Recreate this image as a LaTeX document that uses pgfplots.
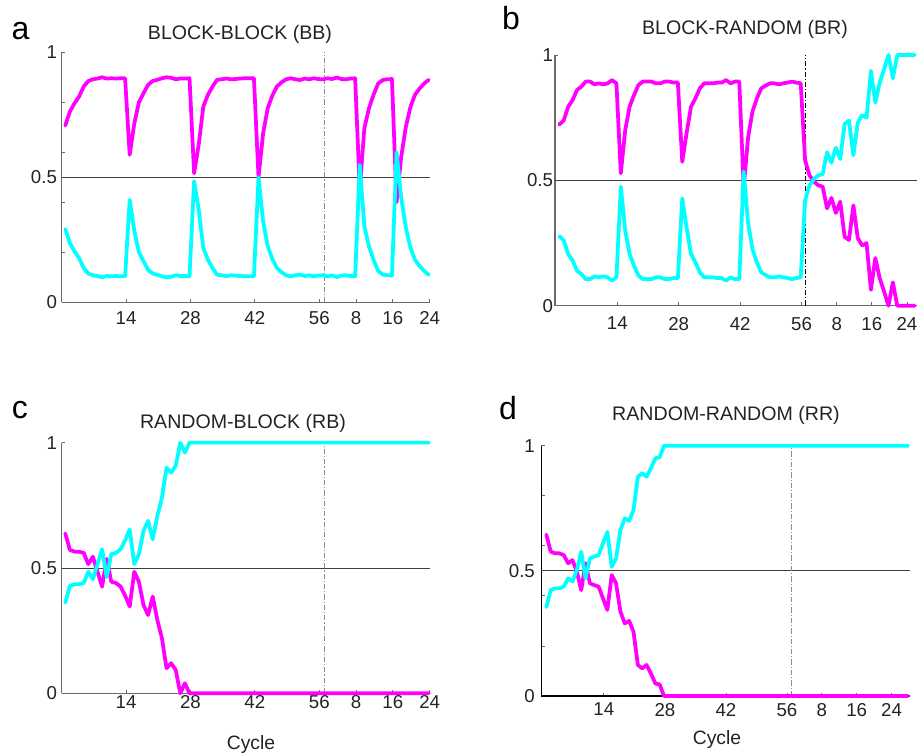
\documentclass[border=0pt]{standalone}
\usepackage{pgfplots}
\pgfplotsset{compat=1.18}
\usepackage{pgfplotstable}
\usepackage{fontspec}
\setmainfont{Liberation Sans}

\definecolor{mag}{RGB}{255,0,255}
\definecolor{cyn}{RGB}{0,255,255}
\definecolor{axgray}{RGB}{105,105,105}
\definecolor{txt}{RGB}{35,35,35}

\pgfplotstableread[row sep=\\]{
j m c\\
1 0.707 0.293\\ 2 0.763 0.237\\ 3 0.796 0.204\\ 4 0.823 0.177\\ 5 0.863 0.137\\
6 0.885 0.115\\ 7 0.892 0.108\\ 8 0.895 0.105\\ 9 0.900 0.100\\ 10 0.895 0.105\\
11 0.896 0.104\\ 12 0.895 0.105\\ 13 0.896 0.104\\ 14 0.896 0.104\\ 15 0.590 0.410\\
16 0.715 0.285\\ 17 0.800 0.200\\ 18 0.836 0.164\\ 19 0.870 0.130\\ 20 0.885 0.115\\
21 0.890 0.110\\ 22 0.896 0.104\\ 23 0.900 0.100\\ 24 0.898 0.102\\ 25 0.892 0.108\\
26 0.895 0.105\\ 27 0.895 0.105\\ 28 0.896 0.104\\ 29 0.516 0.484\\ 30 0.630 0.370\\
31 0.783 0.217\\ 32 0.830 0.170\\ 33 0.863 0.137\\ 34 0.890 0.110\\ 35 0.892 0.108\\
36 0.895 0.105\\ 37 0.892 0.108\\ 38 0.893 0.107\\ 39 0.895 0.105\\ 40 0.896 0.104\\
41 0.896 0.104\\ 42 0.896 0.104\\ 43 0.500 0.500\\ 44 0.676 0.324\\ 45 0.776 0.224\\
46 0.827 0.173\\ 47 0.863 0.137\\ 48 0.880 0.120\\ 49 0.892 0.108\\ 50 0.896 0.104\\
51 0.892 0.108\\ 52 0.889 0.111\\ 53 0.895 0.105\\ 54 0.892 0.108\\ 55 0.896 0.104\\
56 0.893 0.107\\ 57 0.892 0.108\\ 58 0.896 0.104\\ 59 0.893 0.107\\ 60 0.899 0.101\\
61 0.893 0.107\\ 62 0.892 0.108\\ 63 0.895 0.105\\ 64 0.896 0.104\\ 65 0.450 0.550\\
66 0.696 0.304\\ 67 0.776 0.224\\ 68 0.830 0.170\\ 69 0.875 0.125\\ 70 0.889 0.111\\
71 0.892 0.108\\ 72 0.893 0.107\\ 73 0.400 0.600\\ 74 0.580 0.420\\ 75 0.700 0.300\\
76 0.780 0.220\\ 77 0.830 0.170\\ 78 0.855 0.145\\ 79 0.875 0.125\\ 80 0.890 0.110\\
}\dataBB

\pgfplotstableread[row sep=\\]{
j m c\\
1 0.723 0.277\\ 2 0.740 0.260\\ 3 0.794 0.206\\ 4 0.820 0.180\\ 5 0.860 0.140\\
6 0.874 0.126\\ 7 0.894 0.106\\ 8 0.894 0.106\\ 9 0.883 0.117\\ 10 0.887 0.113\\
11 0.883 0.117\\ 12 0.887 0.113\\ 13 0.900 0.100\\ 14 0.887 0.113\\ 15 0.528 0.475\\
16 0.700 0.300\\ 17 0.794 0.206\\ 18 0.840 0.160\\ 19 0.880 0.120\\ 20 0.894 0.106\\
21 0.894 0.106\\ 22 0.894 0.106\\ 23 0.887 0.113\\ 24 0.887 0.113\\ 25 0.894 0.106\\
26 0.894 0.106\\ 27 0.890 0.110\\ 28 0.890 0.110\\ 29 0.574 0.428\\ 30 0.690 0.310\\
31 0.794 0.206\\ 32 0.827 0.173\\ 33 0.867 0.133\\ 34 0.887 0.113\\ 35 0.887 0.113\\
36 0.887 0.113\\ 37 0.890 0.110\\ 38 0.890 0.110\\ 39 0.900 0.100\\ 40 0.887 0.113\\
41 0.894 0.106\\ 42 0.894 0.106\\ 43 0.470 0.535\\ 44 0.670 0.330\\ 45 0.774 0.226\\
46 0.827 0.173\\ 47 0.867 0.133\\ 48 0.878 0.122\\ 49 0.887 0.113\\ 50 0.887 0.113\\
51 0.883 0.117\\ 52 0.887 0.113\\ 53 0.890 0.110\\ 54 0.894 0.106\\ 55 0.890 0.110\\
56 0.887 0.113\\ 57 0.580 0.420\\ 58 0.520 0.480\\ 59 0.495 0.505\\ 60 0.480 0.520\\
61 0.475 0.525\\ 62 0.388 0.612\\ 63 0.430 0.570\\ 64 0.370 0.630\\ 65 0.415 0.585\\
66 0.275 0.725\\ 67 0.262 0.738\\ 68 0.400 0.600\\ 69 0.270 0.730\\ 70 0.240 0.760\\
71 0.250 0.750\\ 72 0.063 0.937\\ 73 0.190 0.810\\ 74 0.110 0.890\\ 75 0.056 0.944\\
76 0.000 1.000\\ 77 0.093 0.907\\ 78 0.000 1.000\\ 79 0.000 1.000\\ 80 0.000 1.000\\
81 0.000 1.000\\ 82 0.000 1.000\\
}\dataBR

\pgfplotstableread[row sep=\\]{
j m c\\
1 0.638 0.362\\ 2 0.572 0.428\\ 3 0.565 0.435\\ 4 0.565 0.435\\ 5 0.560 0.440\\
6 0.515 0.485\\ 7 0.545 0.455\\ 8 0.485 0.515\\ 9 0.425 0.575\\ 10 0.536 0.464\\
11 0.445 0.555\\ 12 0.440 0.560\\ 13 0.426 0.574\\ 14 0.390 0.610\\ 15 0.346 0.654\\
16 0.485 0.515\\ 17 0.445 0.555\\ 18 0.352 0.648\\ 19 0.312 0.688\\ 20 0.386 0.614\\
21 0.293 0.707\\ 22 0.220 0.780\\ 23 0.100 0.900\\ 24 0.120 0.880\\ 25 0.093 0.907\\
26 0.000 1.000\\ 27 0.040 0.960\\ 28 0 1\\ 29 0 1\\ 30 0 1\\
31 0 1\\ 32 0 1\\ 33 0 1\\ 34 0 1\\ 35 0 1\\ 36 0 1\\ 37 0 1\\ 38 0 1\\ 39 0 1\\ 40 0 1\\
41 0 1\\ 42 0 1\\ 43 0 1\\ 44 0 1\\ 45 0 1\\ 46 0 1\\ 47 0 1\\ 48 0 1\\ 49 0 1\\ 50 0 1\\
51 0 1\\ 52 0 1\\ 53 0 1\\ 54 0 1\\ 55 0 1\\ 56 0 1\\ 57 0 1\\ 58 0 1\\ 59 0 1\\ 60 0 1\\
61 0 1\\ 62 0 1\\ 63 0 1\\ 64 0 1\\ 65 0 1\\ 66 0 1\\ 67 0 1\\ 68 0 1\\ 69 0 1\\ 70 0 1\\
71 0 1\\ 72 0 1\\ 73 0 1\\ 74 0 1\\ 75 0 1\\ 76 0 1\\ 77 0 1\\ 78 0 1\\ 79 0 1\\ 80 0 1\\
}\dataRB

\pgfplotstableread[row sep=\\]{
j m c\\
1 0.645 0.355\\ 2 0.577 0.423\\ 3 0.570 0.430\\ 4 0.570 0.430\\ 5 0.563 0.437\\
6 0.530 0.470\\ 7 0.543 0.457\\ 8 0.497 0.503\\ 9 0.423 0.577\\ 10 0.530 0.470\\
11 0.450 0.550\\ 12 0.443 0.557\\ 13 0.437 0.563\\ 14 0.390 0.610\\ 15 0.344 0.656\\
16 0.483 0.517\\ 17 0.450 0.550\\ 18 0.337 0.663\\ 19 0.290 0.710\\ 20 0.300 0.700\\
21 0.257 0.743\\ 22 0.124 0.876\\ 23 0.110 0.890\\ 24 0.124 0.876\\ 25 0.090 0.910\\
26 0.050 0.950\\ 27 0.046 0.954\\ 28 0 1\\ 29 0 1\\ 30 0 1\\
31 0 1\\ 32 0 1\\ 33 0 1\\ 34 0 1\\ 35 0 1\\ 36 0 1\\ 37 0 1\\ 38 0 1\\ 39 0 1\\ 40 0 1\\
41 0 1\\ 42 0 1\\ 43 0 1\\ 44 0 1\\ 45 0 1\\ 46 0 1\\ 47 0 1\\ 48 0 1\\ 49 0 1\\ 50 0 1\\
51 0 1\\ 52 0 1\\ 53 0 1\\ 54 0 1\\ 55 0 1\\ 56 0 1\\ 57 0 1\\ 58 0 1\\ 59 0 1\\ 60 0 1\\
61 0 1\\ 62 0 1\\ 63 0 1\\ 64 0 1\\ 65 0 1\\ 66 0 1\\ 67 0 1\\ 68 0 1\\ 69 0 1\\ 70 0 1\\
71 0 1\\ 72 0 1\\ 73 0 1\\ 74 0 1\\ 75 0 1\\ 76 0 1\\ 77 0 1\\ 78 0 1\\ 79 0 1\\ 80 0 1\\
81 0 1\\ 82 0 1\\ 83 0 1\\ 84 0 1\\
}\dataRR

\tikzset{
  hline/.style={black!75, line width=0.6pt},
  vdash/.style={line width=0.5pt, dash pattern=on 4pt off 1.5pt on 0.8pt off 1.5pt},
}

\pgfplotsset{
  panel/.style={
    scale only axis,
    anchor=south west,
    ymin=0, ymax=1,
    axis x line=bottom, axis y line=left,
    axis line style={-, axgray, line width=0.8pt},
    tick align=inside,
    tick style={axgray, line width=0.6pt},
    major tick length=2.5pt,
    xtick={14.2,28.2,42.2,56.2,64.2,72.2,80.2},
    xticklabels={14,28,42,56,8,16,24},
    ticklabel style={font=\fontsize{14}{16}\selectfont, text=txt},
    /pgf/number format/assume math mode=true,
    clip=false,
  },
  yfull/.style={ytick={0,0.2,0.4,0.5,0.6,0.8,1}, yticklabels={0,,,0.5,,,1}},
  ysimple/.style={ytick={0,0.5,1}, yticklabels={0,0.5,1}},
  magline/.style={mag, line width=2.8pt, line join=round, line cap=round, no markers},
  cynline/.style={cyn, line width=2.8pt, line join=round, line cap=round, no markers},
}

\begin{document}
\begin{tikzpicture}
\path[use as bounding box] (0pt,0pt) rectangle (687.75pt,567pt);

% ---------- a ----------
\begin{axis}[panel, yfull, at={(46.2pt,340.28pt)}, width=276.4pt, height=187.5pt,
  xmin=0.2, xmax=80.3, xticklabel style={yshift=-3.6pt}]
  \draw[hline] (axis cs:0.2,0.5) -- (axis cs:80.3,0.5);
  \draw[vdash, black!45] (axis cs:57.3,0) -- (axis cs:57.3,1);
  \addplot[magline] table[x=j, y=m] {\dataBB};
  \addplot[cynline] table[x=j, y=c] {\dataBB};
\end{axis}

% ---------- b ----------
\begin{axis}[panel, ysimple, at={(416.25pt,337.73pt)}, width=271.5pt, height=188pt,
  xmin=0, xmax=82.5, xticklabel style={yshift=-5pt}, yticklabel style={xshift=2pt}]
  \draw[hline] (axis cs:0,0.5) -- (axis cs:82.5,0.5);
  \draw[vdash, black, line width=0.6pt] (axis cs:57.1,0) -- (axis cs:57.1,1);
  \addplot[magline] table[x=j, y=m] {\dataBR};
  \addplot[cynline] table[x=j, y=c] {\dataBR};
\end{axis}

% ---------- c ----------
\begin{axis}[panel, ysimple, at={(46.2pt,47.03pt)}, width=276.4pt, height=188pt,
  xmin=0.2, xmax=80.3, xticklabel style={yshift=2pt}]
  \draw[hline] (axis cs:0.2,0.5) -- (axis cs:80.3,0.5);
  \draw[vdash, black!45] (axis cs:57.3,0) -- (axis cs:57.3,1);
  \addplot[magline] table[x=j, y=m] {\dataRB};
  \addplot[cynline] table[x=j, y=c] {\dataRB};
\end{axis}

% ---------- d ----------
\begin{axis}[panel, yfull, at={(405.98pt,45pt)}, width=276.4pt, height=187.7pt,
  xmin=-0.15, xmax=84.4, xticklabel style={yshift=-1.8pt}, yticklabel style={xshift=-1.3pt},
  axis line style={-, black, line width=0.8pt}]
  \draw[hline] (axis cs:-0.15,0.5) -- (axis cs:84.4,0.5);
  \draw[vdash, black!45] (axis cs:57.2,0) -- (axis cs:57.2,1);
  \addplot[magline] table[x=j, y=m] {\dataRR};
  \addplot[cynline] table[x=j, y=c] {\dataRR};
\end{axis}

% ---------- texts ----------
\begin{scope}[every node/.style={text=txt, inner sep=0pt, anchor=base}]
\node[font=\fontsize{14.7}{17}\selectfont] at (180pt,537pt) {BLOCK-BLOCK (BB)};
\node[font=\fontsize{14.7}{17}\selectfont] at (558.75pt,540.75pt) {BLOCK-RANDOM (BR)};
\node[font=\fontsize{14.7}{17}\selectfont] at (182.25pt,245.25pt) {RANDOM-BLOCK (RB)};
\node[font=\fontsize{14.7}{17}\selectfont] at (544.5pt,251.25pt) {RANDOM-RANDOM (RR)};
\node[font=\fontsize{24}{28}\selectfont, text=black] at (15.4pt,537pt) {a};
\node[font=\fontsize{24}{28}\selectfont, text=black] at (383.25pt,544.5pt) {b};
\node[font=\fontsize{24}{28}\selectfont, text=black] at (15pt,252.75pt) {c};
\node[font=\fontsize{24}{28}\selectfont, text=black] at (381pt,252pt) {d};
\node[font=\fontsize{14.5}{17}\selectfont] at (188.25pt,4.5pt) {Cycle};
\node[font=\fontsize{14.5}{17}\selectfont] at (537.75pt,8.25pt) {Cycle};
\end{scope}
\end{tikzpicture}
\end{document}
